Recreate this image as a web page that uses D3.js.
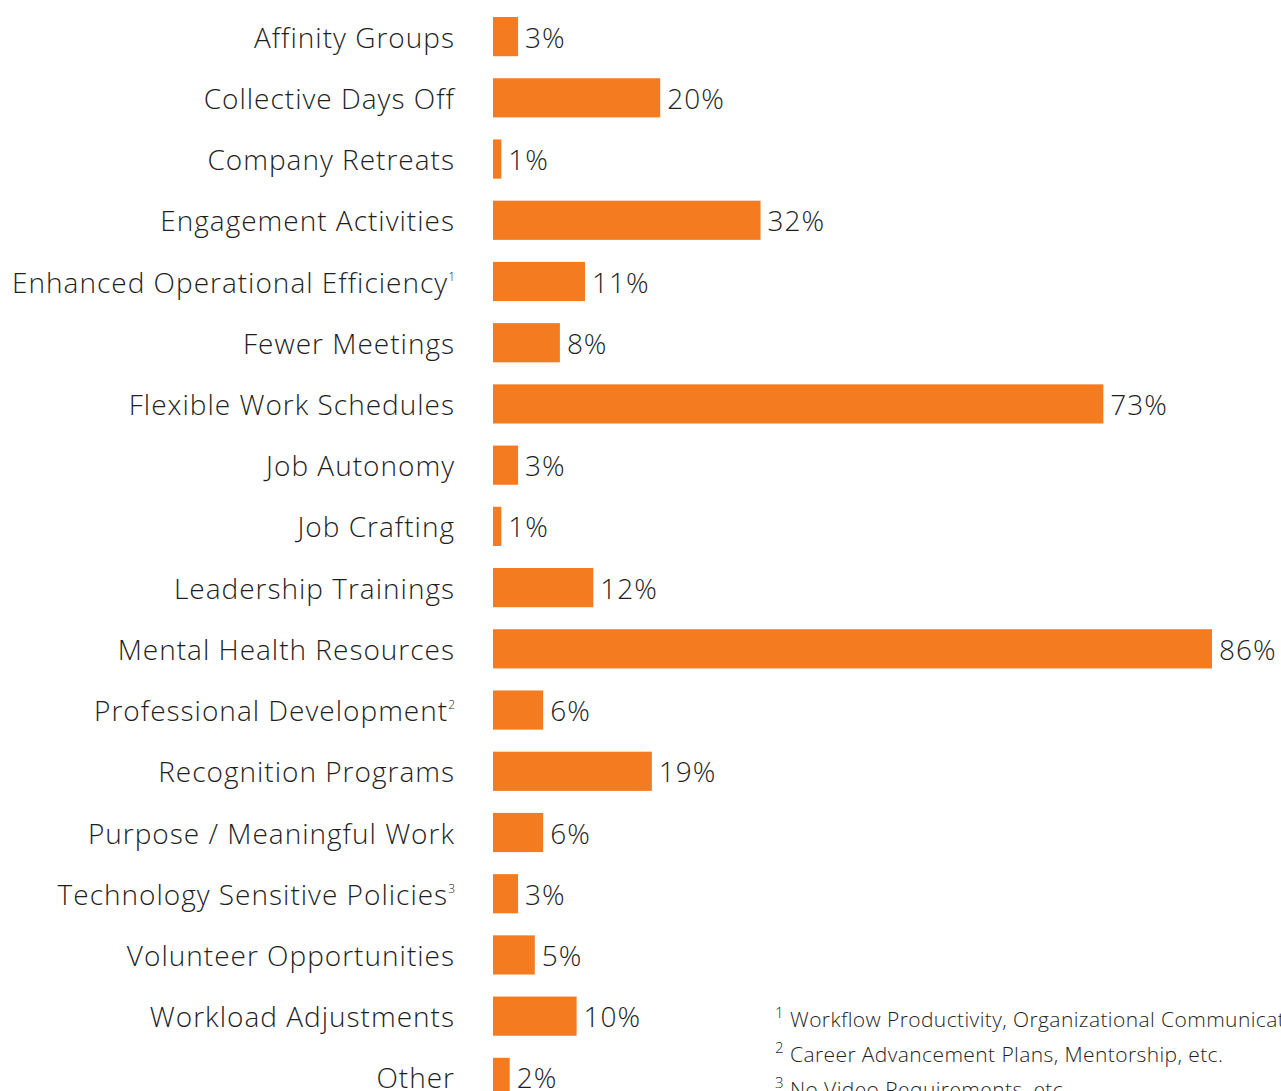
<!DOCTYPE html>
<html>
<head>
<meta charset="utf-8">
<script src="https://cdn.jsdelivr.net/npm/d3@7"></script>
<style>
  html, body { margin: 0; padding: 0; background: #fff; }
  svg { display: block; font-family: "Open Sans", "Noto Sans", sans-serif; }
</style>
</head>
<body>
<svg id="chart" width="1281" height="1091"></svg>
<script>
const categories = [
  "Affinity Groups", "Collective Days Off", "Company Retreats", "Engagement Activities",
  "Enhanced Operational Efficiency", "Fewer Meetings", "Flexible Work Schedules", "Job Autonomy",
  "Job Crafting", "Leadership Trainings", "Mental Health Resources", "Professional Development",
  "Recognition Programs", "Purpose / Meaningful Work", "Technology Sensitive Policies",
  "Volunteer Opportunities", "Workload Adjustments", "Other"
];
const footnoteMarks = ["", "", "", "", "1", "", "", "", "", "", "", "2", "", "", "3", "", "", ""];
const values = [3, 20, 1, 32, 11, 8, 73, 3, 1, 12, 86, 6, 19, 6, 3, 5, 10, 2];
const footnotes = [
  ["1", "Workflow Productivity, Organizational Communication, etc."],
  ["2", "Career Advancement Plans, Mentorship, etc."],
  ["3", "No Video Requirements, etc."]
];

const data = categories.map((c, i) => ({ label: c, mark: footnoteMarks[i], value: values[i] }));
const svg = d3.select("#chart");
const x0 = 493;
const x = d3.scaleLinear().domain([0, 86]).range([x0, 1212]);
const y = d3.scaleBand().domain(categories).range([6, 1108]).paddingInner(0.36).paddingOuter(0.18);

svg.selectAll(".bar")
  .data(data)
  .join("rect")
  .attr("class", "bar")
  .attr("x", x0)
  .attr("y", (d) => y(d.label))
  .attr("width", (d) => x(d.value) - x0)
  .attr("height", y.bandwidth())
  .attr("fill", "#f47b20");

const labels = svg.selectAll(".cat")
  .data(data)
  .join("text")
  .attr("class", "cat")
  .attr("x", 455)
  .attr("y", (d) => y(d.label) + y.bandwidth() / 2 + 11)
  .attr("text-anchor", "end")
  .attr("fill", "#1f1f1f")
  .style("font-size", "28px")
  .style("font-weight", 300)
  .style("letter-spacing", "1px");
labels.append("tspan").text((d) => d.label);
labels.filter((d) => d.mark).append("tspan")
  .attr("dy", -12)
  .style("font-size", "12px")
  .style("letter-spacing", "0px")
  .text((d) => d.mark);

svg.selectAll(".val")
  .data(data)
  .join("text")
  .attr("class", "val")
  .attr("x", (d) => x(d.value) + 7)
  .attr("y", (d) => y(d.label) + y.bandwidth() / 2 + 11)
  .attr("fill", "#1f1f1f")
  .style("font-size", "28px")
  .style("font-weight", 300)
  .style("letter-spacing", "1px")
  .text((d) => `${d.value}%`);

const fn = svg.selectAll(".fn")
  .data(footnotes)
  .join("text")
  .attr("class", "fn")
  .attr("x", 775)
  .attr("y", (d, i) => 1027 + i * 35)
  .attr("fill", "#1f1f1f")
  .style("font-size", "21px")
  .style("font-weight", 300)
  .style("letter-spacing", "0.4px");
fn.append("tspan").attr("dy", -9).style("font-size", "15px").text((d) => d[0]);
fn.append("tspan").attr("x", 790).attr("dy", 9).text((d) => d[1]);
</script>
</body>
</html>
